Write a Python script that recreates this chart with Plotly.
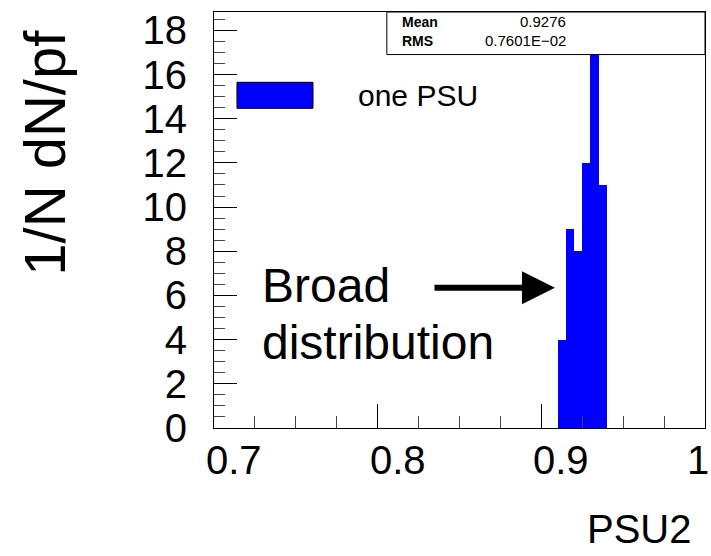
import plotly.graph_objects as go

# Histogram of PSU2 values: bin lower edges, bin width and entries per bin
bin_low = [0.910, 0.915, 0.920, 0.925, 0.930, 0.935]
bin_width = 0.005
counts = [4, 9, 8, 12, 17, 11]

# Axis tick labels
x_ticks = [0.7, 0.8, 0.9, 1.0]
x_tick_text = ["0.7", "0.8", "0.9", "1"]
y_ticks = [0, 2, 4, 6, 8, 10, 12, 14, 16, 18]

# Statistics box entries
stat_names = ["Mean", "RMS"]
stat_values = ["0.9276", "0.7601E\u221202"]

legend_label = "one PSU"
x_title = "PSU2"
y_title = "1/N dN/pf"

FONT = "Liberation Sans, Arial, sans-serif"
BLUE = "#0000ff"

centers = [lo + bin_width / 2 for lo in bin_low]

fig = go.Figure()
fig.add_trace(go.Bar(
    x=centers, y=counts, width=bin_width,
    marker=dict(color=BLUE, line=dict(width=0)),
    showlegend=False, hoverinfo="skip",
))

fig.update_layout(
    width=711, height=556,
    margin=dict(l=214, r=6, t=12, b=128),
    paper_bgcolor="white", plot_bgcolor="white",
    font=dict(family=FONT, color="black"),
    bargap=0,
)

fig.update_xaxes(
    range=[0.7, 1.0], showgrid=False, zeroline=False,
    showline=True, linecolor="black", linewidth=1, mirror=True,
    ticks="inside", tickvals=x_ticks, ticklen=24, tickcolor="black",
    showticklabels=False,
    minor=dict(dtick=0.025, ticks="inside", ticklen=12, tickcolor="#444"),
)
fig.update_yaxes(
    range=[0, 18.83], showgrid=False, zeroline=False,
    showline=True, linecolor="black", linewidth=1, mirror=True,
    ticks="inside", tickvals=y_ticks, ticklen=23, tickcolor="black",
    tickfont=dict(size=40, family=FONT), ticklabelstandoff=18,
    minor=dict(dtick=0.5, ticks="inside", ticklen=11, tickcolor="#444"),
)

# X tick labels
for v, t in zip(x_ticks, x_tick_text):
    fig.add_annotation(
        x=v, y=0, xref="x", yref="paper", text=t, showarrow=False,
        xanchor="center", yanchor="top", yshift=-8,
        xshift=(20 if len(t) > 1 else -7),
        font=dict(size=40, family=FONT),
    )

# Axis titles
fig.add_annotation(
    x=-0.344, y=0.662, xref="paper", yref="paper", text=y_title,
    textangle=-90, showarrow=False, xanchor="center", yanchor="middle",
    font=dict(size=58, family=FONT),
)
fig.add_annotation(
    x=0.866, y=-0.242, xref="paper", yref="paper", text=x_title,
    showarrow=False, xanchor="center", yanchor="middle",
    font=dict(size=40, family=FONT),
)

# Statistics box
fig.add_shape(
    type="rect", xref="paper", yref="paper",
    x0=0.352, x1=1.0, y0=0.8977, y1=1.0,
    line=dict(color="black", width=1), fillcolor="white",
)
for i, (name, val) in enumerate(zip(stat_names, stat_values)):
    yy = 0.977 - i * 0.046
    fig.add_annotation(
        x=0.3788, y=yy, xref="paper", yref="paper", text="<b>" + name + "</b>",
        showarrow=False, xanchor="left", yanchor="middle",
        font=dict(size=14, family=FONT),
    )
    fig.add_annotation(
        x=0.721, y=yy, xref="paper", yref="paper", text=val,
        showarrow=False, xanchor="right", yanchor="middle",
        font=dict(size=15, family=FONT),
    )

# Legend entry
fig.add_shape(
    type="rect", xref="paper", yref="paper",
    x0=0.0468, x1=0.2016, y0=0.7685, y1=0.831,
    line=dict(color="black", width=1), fillcolor=BLUE,
)
fig.add_annotation(
    x=0.2888, y=0.8, xref="paper", yref="paper", text=legend_label,
    showarrow=False, xanchor="left", yanchor="middle",
    font=dict(size=30, family=FONT),
)

# Comment text with arrow pointing at the peak region
fig.add_annotation(
    x=0.728, y=6.45, xref="x", yref="y", text="Broad",
    showarrow=False, xanchor="left", yanchor="middle",
    font=dict(size=48, family=FONT),
)
fig.add_annotation(
    x=0.728, y=3.85, xref="x", yref="y", text="distribution",
    showarrow=False, xanchor="left", yanchor="middle",
    font=dict(size=48, family=FONT),
)
fig.add_annotation(
    x=0.9083, y=6.35, ax=0.8338, ay=6.35, xref="x", yref="y",
    axref="x", ayref="y", text="", showarrow=True,
    arrowhead=2, arrowsize=1.1, arrowwidth=6, arrowcolor="black",
)

fig.write_html("out.html")
